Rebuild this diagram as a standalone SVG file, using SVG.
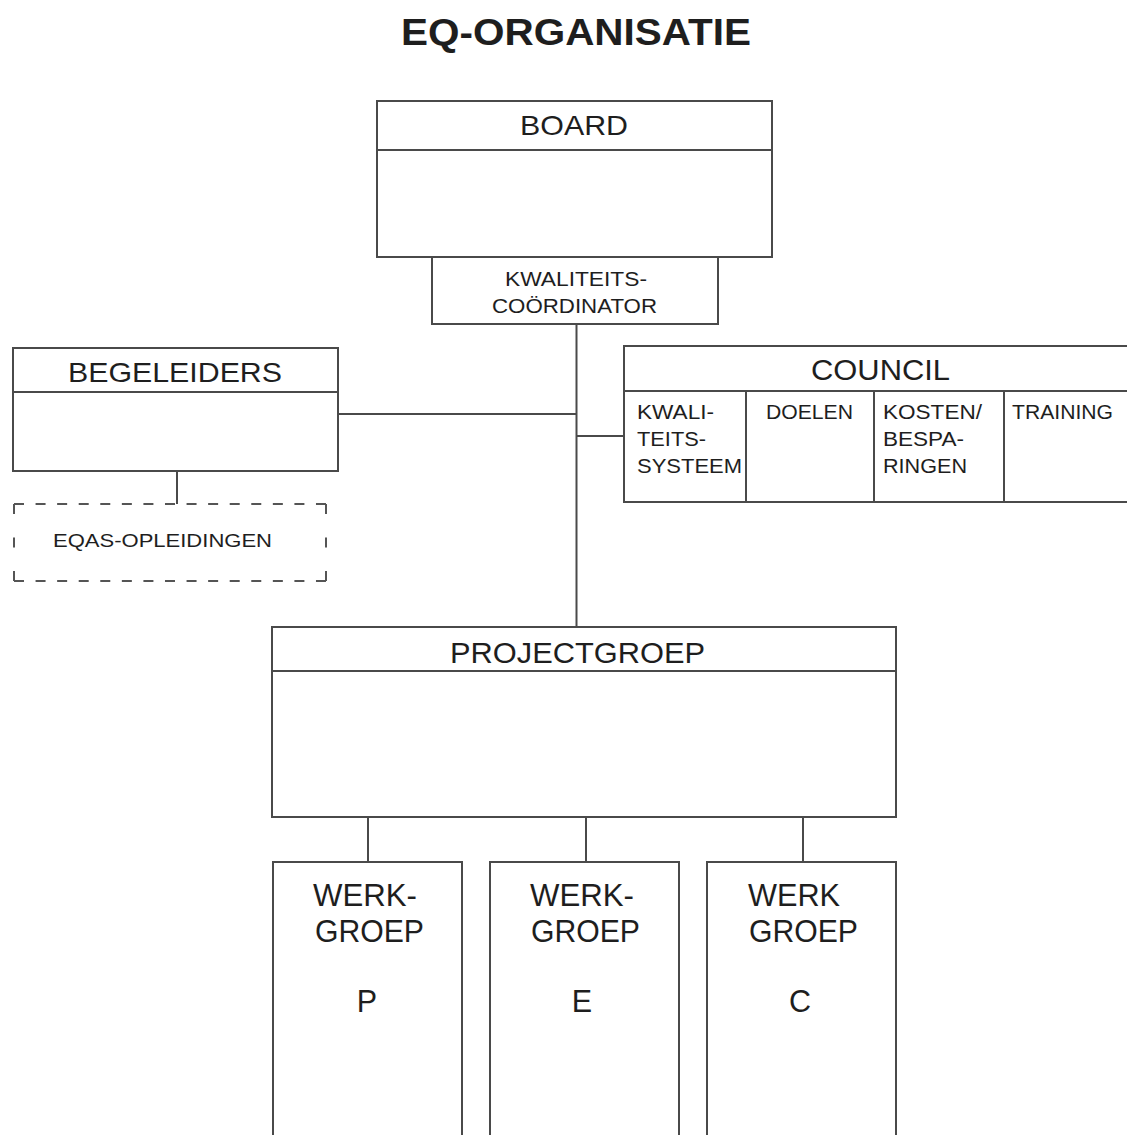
<svg xmlns="http://www.w3.org/2000/svg" width="1127" height="1135" viewBox="0 0 1127 1135">
<style>
.box{fill:#fff;stroke:#4a4a4a;stroke-width:2}
.ln{fill:none;stroke:#4a4a4a;stroke-width:2}
.dash{fill:none;stroke:#555;stroke-width:2}
text{font-family:"Liberation Sans",Arial,sans-serif;fill:#1e1e1e}
.t36{font-size:36px;font-weight:bold}
.t28{font-size:28px}
.t29{font-size:29px}
.t30{font-size:30.5px}
.t19{font-size:19.5px}
.t18{font-size:18.5px}
</style>
<rect width="1127" height="1135" fill="#fff"/>
<text class="t36" x="401" y="45" textLength="350" lengthAdjust="spacingAndGlyphs">EQ-ORGANISATIE</text>

<g id="connectors">
<line class="ln" x1="576.5" y1="324" x2="576.5" y2="627"/>
<line class="ln" x1="338" y1="414" x2="576.5" y2="414"/>
<line class="ln" x1="576.5" y1="436" x2="624" y2="436"/>
<line class="ln" x1="177" y1="471" x2="177" y2="504"/>
<line class="ln" x1="368" y1="817" x2="368" y2="862"/>
<line class="ln" x1="586" y1="817" x2="586" y2="862"/>
<line class="ln" x1="803" y1="817" x2="803" y2="862"/>
</g>

<g id="board">
<rect class="box" x="377" y="101" width="395" height="156"/>
<line class="ln" x1="377" y1="150" x2="772" y2="150"/>
<text class="t28" x="520" y="135" textLength="108" lengthAdjust="spacingAndGlyphs">BOARD</text>
</g>

<g id="kwaliteitscoordinator">
<rect class="box" x="432" y="257" width="286" height="67"/>
<text class="t19" x="505" y="286" textLength="142" lengthAdjust="spacingAndGlyphs">KWALITEITS-</text>
<text class="t19" x="492" y="313" textLength="165" lengthAdjust="spacingAndGlyphs">COÖRDINATOR</text>
</g>

<g id="begeleiders">
<rect class="box" x="13" y="348" width="325" height="123"/>
<line class="ln" x1="13" y1="392" x2="338" y2="392"/>
<text class="t28" x="68" y="382" textLength="214" lengthAdjust="spacingAndGlyphs">BEGELEIDERS</text>
</g>

<g id="eqas-opleidingen">
<line class="dash" x1="14" y1="504" x2="326" y2="504" stroke-dasharray="10 11.57"/>
<line class="dash" x1="14" y1="581" x2="326" y2="581" stroke-dasharray="10 11.57"/>
<line class="dash" x1="14" y1="504" x2="14" y2="581" stroke-dasharray="10 23.5"/>
<line class="dash" x1="326" y1="504" x2="326" y2="581" stroke-dasharray="10 23.5"/>
<text class="t18" x="53" y="547" textLength="219" lengthAdjust="spacingAndGlyphs">EQAS-OPLEIDINGEN</text>
</g>

<g id="council">
<rect class="box" x="624" y="346" width="515" height="156"/>
<line class="ln" x1="624" y1="391" x2="1127" y2="391"/>
<line class="ln" x1="746" y1="391" x2="746" y2="502"/>
<line class="ln" x1="874" y1="391" x2="874" y2="502"/>
<line class="ln" x1="1004" y1="391" x2="1004" y2="502"/>
<text class="t29" x="811" y="380" textLength="139" lengthAdjust="spacingAndGlyphs">COUNCIL</text>
<text class="t19" x="637" y="419" textLength="77" lengthAdjust="spacingAndGlyphs">KWALI-</text>
<text class="t19" x="637" y="446" textLength="69" lengthAdjust="spacingAndGlyphs">TEITS-</text>
<text class="t19" x="637" y="473" textLength="105" lengthAdjust="spacingAndGlyphs">SYSTEEM</text>
<text class="t19" x="766" y="419" textLength="87" lengthAdjust="spacingAndGlyphs">DOELEN</text>
<text class="t19" x="883" y="419" textLength="99" lengthAdjust="spacingAndGlyphs">KOSTEN/</text>
<text class="t19" x="883" y="446" textLength="81" lengthAdjust="spacingAndGlyphs">BESPA-</text>
<text class="t19" x="883" y="473" textLength="84" lengthAdjust="spacingAndGlyphs">RINGEN</text>
<text class="t19" x="1012" y="419" textLength="101" lengthAdjust="spacingAndGlyphs">TRAINING</text>
</g>

<g id="projectgroep">
<rect class="box" x="272" y="627" width="624" height="190"/>
<line class="ln" x1="272" y1="671" x2="896" y2="671"/>
<text class="t29" x="450" y="663" textLength="255" lengthAdjust="spacingAndGlyphs">PROJECTGROEP</text>
</g>

<g id="werkgroep-p">
<rect class="box" x="273" y="862" width="189" height="290"/>
<text class="t30" x="313" y="906" textLength="104" lengthAdjust="spacingAndGlyphs">WERK-</text>
<text class="t30" x="315" y="942" textLength="109" lengthAdjust="spacingAndGlyphs">GROEP</text>
<text class="t30" x="367" y="1012" text-anchor="middle">P</text>
</g>

<g id="werkgroep-e">
<rect class="box" x="490" y="862" width="189" height="290"/>
<text class="t30" x="530" y="906" textLength="104" lengthAdjust="spacingAndGlyphs">WERK-</text>
<text class="t30" x="531" y="942" textLength="109" lengthAdjust="spacingAndGlyphs">GROEP</text>
<text class="t30" x="582" y="1012" text-anchor="middle">E</text>
</g>

<g id="werkgroep-c">
<rect class="box" x="707" y="862" width="189" height="290"/>
<text class="t30" x="748" y="906" textLength="92" lengthAdjust="spacingAndGlyphs">WERK</text>
<text class="t30" x="749" y="942" textLength="109" lengthAdjust="spacingAndGlyphs">GROEP</text>
<text class="t30" x="800" y="1012" text-anchor="middle">C</text>
</g>
</svg>
